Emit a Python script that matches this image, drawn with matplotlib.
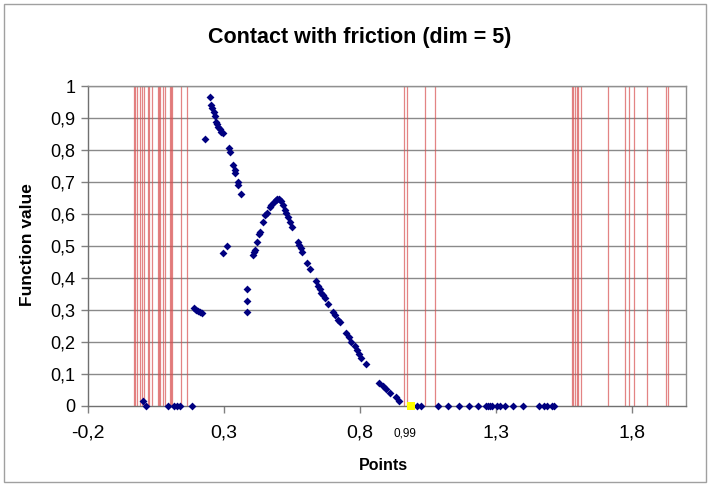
import matplotlib
matplotlib.use("Agg")
import matplotlib.pyplot as plt
from matplotlib.patches import Rectangle
from matplotlib.ticker import FuncFormatter

plt.rcParams['font.family'] = ['Liberation Sans', 'DejaVu Sans']

# Blue data points
pts_x = [0.001, 0.012, 0.095, 0.117, 0.127, 0.138, 0.182,
         0.191, 0.199, 0.206, 0.213, 0.221, 0.229,
         0.247, 0.254, 0.257, 0.262, 0.266, 0.271, 0.273, 0.278, 0.284, 0.291, 0.298,
         0.317, 0.322, 0.335, 0.340, 0.342, 0.350, 0.352, 0.364,
         0.297, 0.311, 0.386, 0.386, 0.386,
         0.407, 0.411, 0.414, 0.422, 0.429, 0.434, 0.444, 0.453, 0.460, 0.468,
         0.475, 0.483, 0.491, 0.497, 0.503, 0.510, 0.518, 0.524, 0.530, 0.536,
         0.542, 0.551, 0.571, 0.576, 0.583, 0.589, 0.604, 0.616, 0.637, 0.646,
         0.653, 0.659, 0.665, 0.671, 0.683, 0.702, 0.708, 0.720, 0.726, 0.751,
         0.760, 0.769, 0.782, 0.790, 0.797, 0.806, 0.822, 0.871, 0.884, 0.896,
         0.911, 0.933, 0.945,
         1.009, 1.025, 1.086, 1.123, 1.165, 1.203, 1.234, 1.264, 1.273, 1.279,
         1.285, 1.304, 1.316, 1.334, 1.365, 1.402, 1.461, 1.476, 1.490, 1.507, 1.516]
pts_y = [0.017, 0.0, 0.0, 0.0, 0.0, 0.0, 0.0,
         0.306, 0.300, 0.297, 0.294, 0.290, 0.834,
         0.967, 0.941, 0.930, 0.920, 0.907, 0.888, 0.880, 0.873, 0.865, 0.857, 0.852,
         0.807, 0.795, 0.753, 0.737, 0.727, 0.701, 0.691, 0.663,
         0.479, 0.500, 0.366, 0.327, 0.294,
         0.472, 0.482, 0.488, 0.514, 0.538, 0.545, 0.574, 0.597, 0.604, 0.621,
         0.628, 0.637, 0.644, 0.647, 0.646, 0.640, 0.628, 0.613, 0.602, 0.590,
         0.576, 0.560, 0.513, 0.503, 0.493, 0.482, 0.448, 0.427, 0.392, 0.375,
         0.365, 0.354, 0.347, 0.337, 0.319, 0.295, 0.284, 0.269, 0.261, 0.228,
         0.215, 0.201, 0.188, 0.175, 0.161, 0.149, 0.131, 0.073, 0.063, 0.052,
         0.040, 0.029, 0.017,
         0.0, 0.0, 0.0, 0.0, 0.0, 0.0, 0.0, 0.0, 0.0, 0.0,
         0.0, 0.0, 0.0, 0.0, 0.0, 0.0, 0.0, 0.0, 0.0, 0.0, 0.0]

# Highlighted point
best_x = [0.99]
best_y = [0.0]

# Red vertical lines
vlines_x = [-0.031, -0.026, -0.020, -0.010, -0.003, 0.007, 0.020, 0.024, 0.035,
            0.056, 0.061, 0.066, 0.076, 0.085, 0.100, 0.104, 0.109, 0.142, 0.164,
            0.962, 0.974, 1.038, 1.077,
            1.582, 1.586, 1.591, 1.598, 1.604, 1.615, 1.712, 1.775, 1.792, 1.810,
            1.855, 1.928, 1.932]

x_ticks = [-0.2, 0.3, 0.8, 1.3, 1.8]
y_ticks = [0, 0.1, 0.2, 0.3, 0.4, 0.5, 0.6, 0.7, 0.8, 0.9, 1.0]

fig = plt.figure(figsize=(7.1, 4.86), dpi=100)
ax = fig.add_axes([88/710, 1-406/486, (686-88)/710, (406-86)/486])

# outer chart border
fig.patches.append(Rectangle((4/710, 4/486), 702/710, 478/486, transform=fig.transFigure,
                             fill=False, edgecolor='#a0a0a0', linewidth=1.0))

ax.set_xlim(-0.2, 2.0)
ax.set_ylim(0, 1)

for y in y_ticks[1:]:
    ax.axhline(y, color='#8a8a8a', linewidth=1.0, zorder=1)

for vx in vlines_x:
    ax.axvline(vx, color='#d85050', linewidth=0.9, alpha=0.7, zorder=2)

ax.scatter(pts_x, pts_y, marker='D', s=16, color='#000080', linewidths=0, zorder=4,
           clip_on=False)
ax.scatter(best_x, best_y, marker='s', s=40, color='#ffff00', linewidths=0, zorder=5,
           clip_on=False)

fmt = FuncFormatter(lambda v, p: ('%g' % round(v, 2)).replace('.', ','))
ax.set_xticks(x_ticks)
ax.set_yticks(y_ticks)
ax.xaxis.set_major_formatter(fmt)
ax.yaxis.set_major_formatter(fmt)
ax.tick_params(axis='both', length=5, width=1, color='#808080', direction='out')
ax.tick_params(axis='x', pad=8, labelsize=14)
ax.tick_params(axis='y', pad=4, labelsize=13)

for s in ['top', 'right']:
    ax.spines[s].set_color('#909090')
for s in ['left', 'bottom']:
    ax.spines[s].set_color('#707070')
for s in ax.spines.values():
    s.set_linewidth(1.0)

ax.annotate('0,99', xy=(best_x[0], 0), xytext=(-4.5, -19.5), textcoords='offset points',
            ha='center', va='center', fontsize=8.5)

fig.text(360/710, 1-38/486, 'Contact with friction (dim = 5)', ha='center', va='center',
         fontsize=15.5, fontweight='bold')
fig.text(383/710, 1-465/486, 'Points', ha='center', va='center', fontsize=11.5,
         fontweight='bold')
fig.text(28/710, 1-245/486, 'Function value', ha='center', va='center', fontsize=12.5,
         fontweight='bold', rotation=90)

fig.savefig('out.png', dpi=100)
